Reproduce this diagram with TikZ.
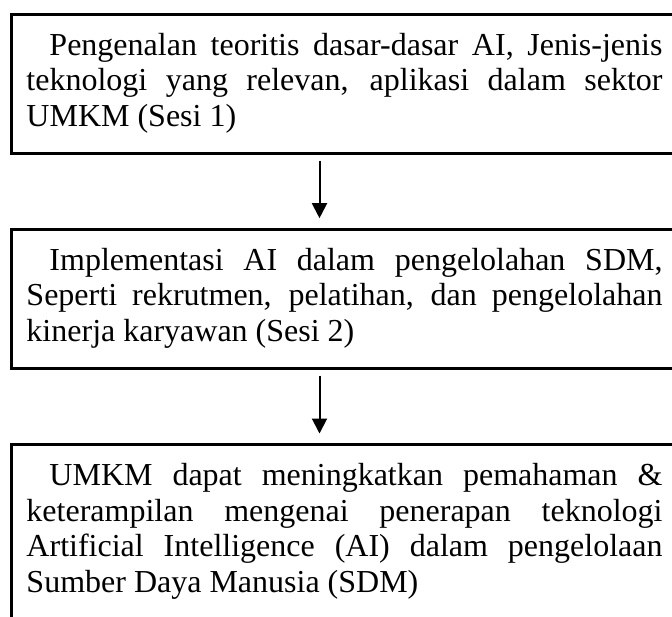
\documentclass[tikz,border=0pt]{standalone}
\usepackage{fontspec}
\setmainfont{Liberation Serif}
\usetikzlibrary{arrows.meta}
\begin{document}
\begin{tikzpicture}[x=1pt,y=-1pt,
  box/.style={draw, line width=3pt, anchor=north west, text width=636pt,
    inner xsep=15pt, inner ysep=16.2pt, align=justify,
    font=\fontsize{32}{35.5}\selectfont},
  flow/.style={line width=2pt, -{Triangle[width=15pt,length=15pt]},
    shorten <=6pt, shorten >=9.5pt}]
\useasboundingbox (0,0) rectangle (672,616);
\clip (0,0) rectangle (672,616);
\node[box] (b1) at (10,12.7) {\hspace*{23pt}\strut Pengenalan teoritis dasar-dasar AI, Jenis-jenis\linebreak teknologi yang relevan, aplikasi dalam sektor\linebreak UMKM (Sesi 1)\strut};
\node[box] (b2) at (10,227.7) {\hspace*{23pt}\strut Implementasi AI dalam pengelolahan SDM,\linebreak Seperti rekrutmen, pelatihan, dan pengelolahan\linebreak kinerja karyawan (Sesi 2)\strut};
\node[box] (b3) at (10,443) {\hspace*{23pt}\strut UMKM dapat meningkatkan pemahaman \&\linebreak keterampilan mengenai penerapan teknologi\linebreak Artificial Intelligence (AI) dalam pengelolaan\linebreak Sumber Daya Manusia (SDM)\strut};
\coordinate (ax) at (319.5,0);
\draw[flow] (b1.south -| ax) -- (b2.north -| ax);
\draw[flow] (b2.south -| ax) -- (b3.north -| ax);
\end{tikzpicture}
\end{document}
